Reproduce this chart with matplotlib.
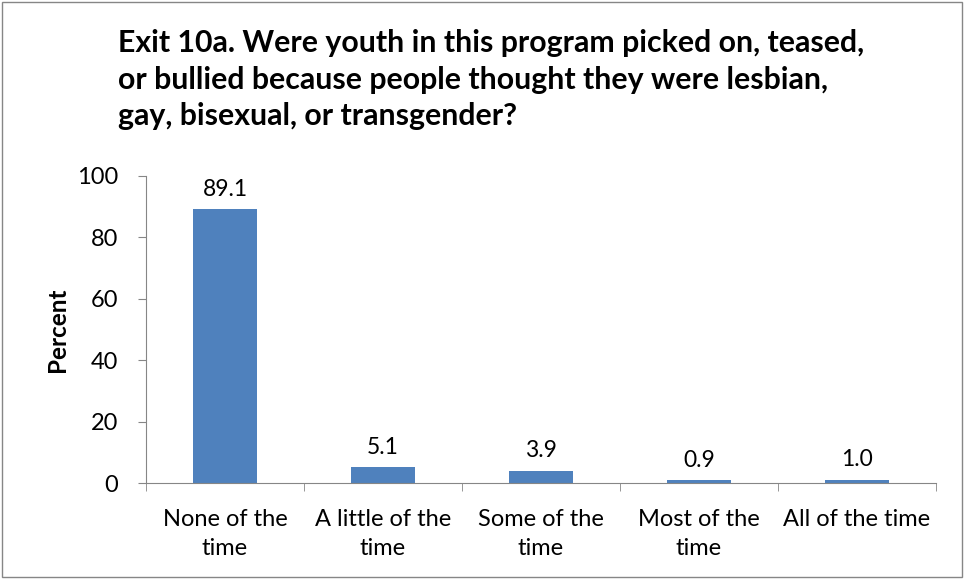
import matplotlib
matplotlib.use("Agg")
from matplotlib import pyplot as plt
from matplotlib.patches import Rectangle
from matplotlib.ticker import FixedLocator

plt.rcParams['font.family'] = ['Lato', 'DejaVu Sans']

categories = ["None of the\ntime", "A little of the\ntime", "Some of the\ntime",
              "Most of the\ntime", "All of the time"]
percent = [89.1, 5.1, 3.9, 0.9, 1.0]

title = ("Exit 10a. Were youth in this program picked on, teased,\n"
         "or bullied because people thought they were lesbian,\n"
         "gay, bisexual, or transgender?")

fig = plt.figure(figsize=(9.64, 5.79), dpi=100)
ax = fig.add_axes([146 / 964, 1 - 483 / 579, 790 / 964, 307 / 579])

x = list(range(len(categories)))
bars = ax.bar(x, percent, width=0.4, color="#4F81BD")

# value labels above each bar
for xi, v in zip(x, percent):
    ax.annotate(f"{v:.1f}", (xi, v), xytext=(0, 7), textcoords="offset points",
                ha="center", va="bottom", fontsize=16.5)

ax.set_xlim(-0.5, len(categories) - 0.5)
ax.set_ylim(0, 100)
ax.set_yticks([0, 20, 40, 60, 80, 100])

# category labels centred, tick marks between categories
ax.set_xticks(x)
ax.set_xticklabels(categories, fontsize=17, linespacing=1.42)
ax.xaxis.set_minor_locator(FixedLocator([i - 0.5 for i in range(len(categories) + 1)]))
ax.tick_params(axis="x", which="major", length=0, pad=19)
ax.tick_params(axis="x", which="minor", length=6, color="#868686", direction="out")
ax.tick_params(axis="y", length=6, color="#868686", direction="out", labelsize=17, pad=14)

for side in ["top", "right"]:
    ax.spines[side].set_visible(False)
for side in ["left", "bottom"]:
    ax.spines[side].set_color("#868686")

ax.set_ylabel("Percent", fontsize=17.5, fontweight="bold", labelpad=6)

fig.text(118 / 964, 1 - 29 / 579, title, ha="left", va="top",
         fontsize=21.8, fontweight="bold", linespacing=1.37)

# chart area border
fig.patches.append(Rectangle((2 / 964, 2 / 579), 960 / 964, 575 / 579,
                             transform=fig.transFigure, fill=False,
                             edgecolor="#868686", linewidth=1))

fig.savefig("out.png", dpi=100)
